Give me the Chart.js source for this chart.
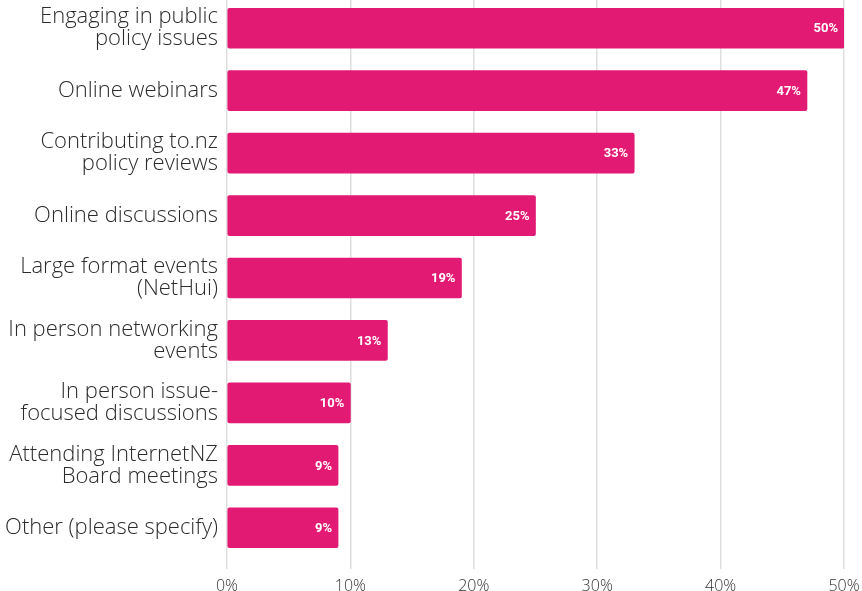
<!DOCTYPE html>
<html>
<head>
<meta charset="utf-8">
<script src="https://cdn.jsdelivr.net/npm/chart.js@4/dist/chart.umd.min.js"></script>
<style>
  html, body { margin: 0; padding: 0; background: #fff; overflow: hidden; }
  #wrap { width: 862px; height: 594px; margin-top: -3px; }
</style>
</head>
<body>
<div id="wrap"><canvas id="chart"></canvas></div>
<script>
// survey categories (multi-line labels as in the reference)
const categories = [
  ["Engaging in public", "policy issues"],
  "Online webinars",
  ["Contributing to.nz", "policy reviews"],
  "Online discussions",
  ["Large format events", "(NetHui)"],
  ["In person networking", "events"],
  ["In person issue-", "focused discussions"],
  ["Attending InternetNZ", "Board meetings"],
  "Other (please specify)"
];
const values = [50, 47, 33, 25, 19, 13, 10, 9, 9];
const xTicks = [0, 10, 20, 30, 40, 50];

const pink = "#e31a73";

// white % labels at the end of each bar
const barLabels = {
  id: "barLabels",
  afterDatasetsDraw(chart) {
    const ctx = chart.ctx;
    const meta = chart.getDatasetMeta(0);
    ctx.save();
    ctx.fillStyle = "#fff";
    ctx.font = "bold 13px Roboto, sans-serif";
    ctx.textAlign = "right";
    ctx.textBaseline = "middle";
    meta.data.forEach((bar, i) => {
      ctx.fillText(values[i] + "%", bar.x - 6, bar.y + 1);
    });
    ctx.restore();
  }
};

new Chart(document.getElementById("chart"), {
  type: "bar",
  data: {
    labels: categories,
    datasets: [{
      data: values,
      backgroundColor: pink,
      borderRadius: 2,
      borderSkipped: false,
      barThickness: 40
    }]
  },
  options: {
    indexAxis: "y",
    responsive: true,
    maintainAspectRatio: false,
    animation: false,
    layout: { padding: { top: 0, left: 0, right: 18, bottom: 0 } },
    plugins: { legend: { display: false }, tooltip: { enabled: false } },
    scales: {
      x: {
        min: 0,
        max: 50,
        afterBuildTicks: s => { s.ticks = xTicks.map(v => ({ value: v })); },
        afterFit: s => {
          s.height = 32;
          s.paddingLeft = 0;
          s.paddingRight = 0;
        },
        border: { display: false },
        grid: { color: "#dedede", lineWidth: 1.5, tickLength: 10 },
        ticks: {
          padding: 8,
          color: "#333",
          font: { family: "'Open Sans'", size: 16, weight: 300 },
          callback: v => v + "%"
        }
      },
      y: {
        afterFit: s => {
          s.width = 227;
          s.paddingTop = 0;
          s.paddingBottom = 0;
        },
        border: { display: false },
        grid: { display: false, drawTicks: false },
        ticks: {
          padding: 9,
          color: "#2b2b2b",
          font: { family: "'Open Sans'", size: 22, weight: 300, lineHeight: 1.0 }
        }
      }
    }
  },
  plugins: [barLabels]
});
</script>
</body>
</html>
